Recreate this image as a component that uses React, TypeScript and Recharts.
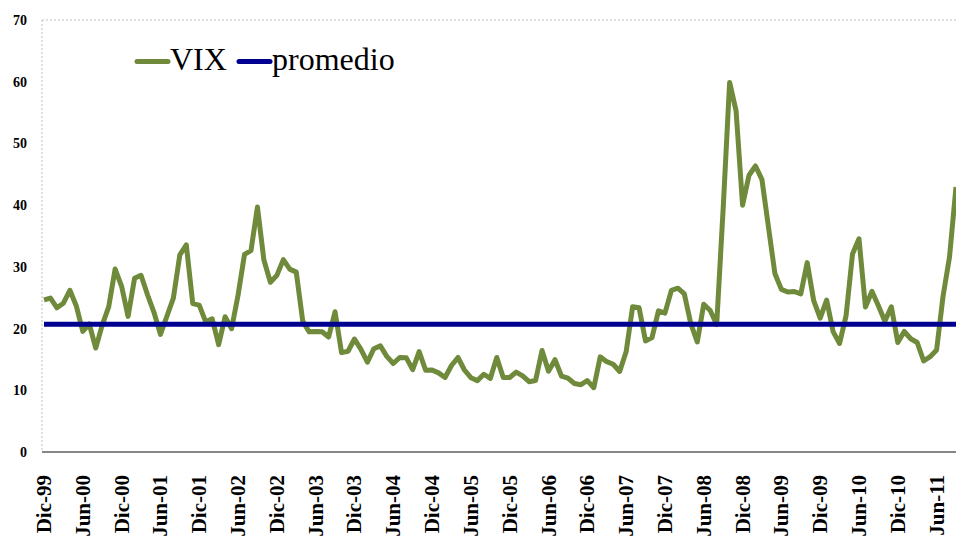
import React from "react";
import { LineChart, Line, XAxis, YAxis, ReferenceLine, Legend } from "recharts";

// Spanish month abbreviations used for the category labels
const monthNames = ["Ene", "Feb", "Mar", "Abr", "May", "Jun", "Jul", "Ago", "Sep", "Oct", "Nov", "Dic"];

// VIX monthly close values, Dic-99 .. Sep-11
const vix1999 = [24.64];
const vix2000 = [24.95, 23.37, 24.11, 26.2, 23.65, 19.54, 20.74, 16.84, 20.57, 23.52, 29.65, 26.85];
const vix2001 = [21.97, 28.14, 28.64, 25.48, 22.64, 19.06, 22.0, 24.92, 31.93, 33.56, 24.05, 23.8];
const vix2002 = [21.09, 21.59, 17.4, 21.91, 19.98, 25.4, 32.03, 32.64, 39.69, 31.1, 27.5, 28.62];
const vix2003 = [31.17, 29.63, 29.15, 21.21, 19.47, 19.52, 19.49, 18.63, 22.72, 16.1, 16.32, 18.31];
const vix2004 = [16.63, 14.55, 16.74, 17.19, 15.5, 14.34, 15.32, 15.29, 13.34, 16.27, 13.24, 13.29];
const vix2005 = [12.82, 12.08, 14.02, 15.31, 13.29, 12.04, 11.57, 12.6, 11.92, 15.32, 12.06, 12.07];
const vix2006 = [12.95, 12.34, 11.39, 11.59, 16.44, 13.08, 14.95, 12.31, 11.98, 11.1, 10.91, 11.56];
const vix2007 = [10.42, 15.42, 14.64, 14.22, 13.05, 16.23, 23.52, 23.38, 18.0, 18.53, 22.87, 22.5];
const vix2008 = [26.2, 26.54, 25.61, 20.79, 17.83, 23.95, 22.94, 20.65, 39.39, 59.89, 55.28, 40.0];
const vix2009 = [44.84, 46.35, 44.14, 36.5, 28.92, 26.35, 25.92, 26.01, 25.61, 30.69, 24.51, 21.68];
const vix2010 = [24.62, 19.5, 17.59, 22.05, 32.07, 34.54, 23.5, 26.05, 23.7, 21.2, 23.54, 17.75];
const vix2011 = [19.53, 18.35, 17.74, 14.75, 15.45, 16.52, 25.25, 31.62, 42.96];

const vixValues = [
  ...vix1999, ...vix2000, ...vix2001, ...vix2002, ...vix2003, ...vix2004,
  ...vix2005, ...vix2006, ...vix2007, ...vix2008, ...vix2009, ...vix2010, ...vix2011,
];

// long-run average level
const promedio = 20.7;

// category labels: Dic-99 then Ene-00 ... Sep-11
const categories: string[] = ["Dic-99"];
for (let y = 0; y <= 11; y++) {
  for (let m = 0; m < 12; m++) {
    if (y === 11 && m > 8) break;
    categories.push(`${monthNames[m]}-${String(y).padStart(2, "0")}`);
  }
}

const yTicks = [0, 10, 20, 30, 40, 50, 60, 70];

const data = categories.map((mes, i) => ({ mes, VIX: vixValues[i], promedio }));

const FONT = "'Liberation Serif', 'Times New Roman', serif";
const GREEN = "#6E8A3A";
const NAVY = "#000090";

const XTick = (props: any) => {
  const { x, y, payload } = props;
  return (
    <text
      transform={`translate(${x},${y + 23}) rotate(-90)`}
      textAnchor="end"
      dominantBaseline="central"
      fontFamily={FONT}
      fontWeight="bold"
      fontSize={21}
      fill="#000"
    >
      {payload.value}
    </text>
  );
};

const LegendContent = (props: any) => {
  const payload = props.payload || [];
  const pos = [
    { x1: 137, x2: 168, tx: 170 },
    { x1: 239, x2: 270, tx: 272 },
  ];
  return (
    <svg width={420} height={90} style={{ display: "block" }}>
      {payload.map((p: any, i: number) => (
        <g key={i}>
          <line
            x1={pos[i].x1}
            x2={pos[i].x2}
            y1={61.5}
            y2={61.5}
            stroke={p.color}
            strokeWidth={5}
            strokeLinecap="round"
          />
          <text x={pos[i].tx} y={70} fontFamily={FONT} fontSize={32} fill="#000">
            {p.value}
          </text>
        </g>
      ))}
    </svg>
  );
};

export default function App() {
  return (
    <div
      style={{
        position: "absolute",
        left: 0,
        top: 0,
        width: 956,
        height: 539,
        overflow: "hidden",
        background: "#fff",
      }}
    >
      <LineChart
        width={960}
        height={539}
        data={data}
        margin={{ top: 20, right: 4, left: 0, bottom: 0 }}
      >
        <ReferenceLine y={70} stroke="#BFBFBF" strokeDasharray="2 2" strokeWidth={1} />
        <XAxis
          dataKey="mes"
          interval={5}
          tick={<XTick />}
          tickLine={false}
          tickSize={0}
          tickMargin={0}
          axisLine={{ stroke: "#868686", strokeWidth: 2 }}
          height={87}
          padding={{ left: 2, right: 0 }}
        />
        <YAxis
          domain={[0, 70]}
          ticks={yTicks}
          width={42}
          tickLine={false}
          tickSize={0}
          tickMargin={15}
          axisLine={{ stroke: "#BFBFBF", strokeDasharray: "2 2" }}
          tick={{ fontFamily: FONT, fontWeight: "bold", fontSize: 14, fill: "#000" }}
        />
        <Legend
          layout="vertical"
          align="center"
          verticalAlign="middle"
          wrapperStyle={{ position: "absolute", left: 0, top: 0, width: 420, height: 90 }}
          content={<LegendContent />}
        />
        <Line
          type="linear"
          dataKey="VIX"
          name="VIX"
          stroke={GREEN}
          strokeWidth={5}
          dot={false}
          activeDot={false}
          strokeLinejoin="round"
          isAnimationActive={false}
        />
        <Line
          type="linear"
          dataKey="promedio"
          name="promedio"
          stroke={NAVY}
          strokeWidth={5}
          dot={false}
          activeDot={false}
          isAnimationActive={false}
        />
      </LineChart>
    </div>
  );
}
